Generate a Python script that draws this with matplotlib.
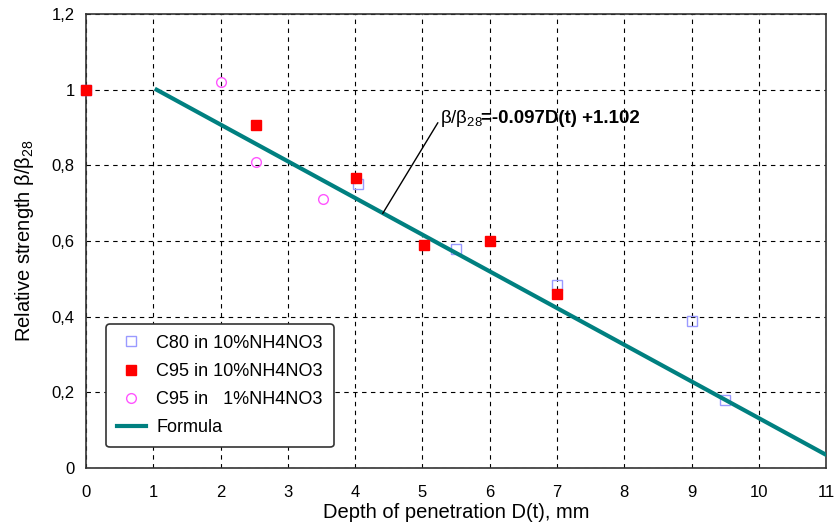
import matplotlib.pyplot as plt
import numpy as np

plt.rcParams['font.family'] = ['Liberation Sans', 'DejaVu Sans']
plt.rcParams['mathtext.fontset'] = 'custom'
plt.rcParams['mathtext.rm'] = 'Liberation Sans'
plt.rcParams['mathtext.it'] = 'Liberation Sans'

# data
c80_x = [0, 4.05, 5.5, 7.0, 9.0, 9.5]
c80_y = [1.0, 0.75, 0.58, 0.483, 0.39, 0.18]
c95_10_x = [0, 2.52, 4.02, 5.02, 6.0, 7.0]
c95_10_y = [1.0, 0.908, 0.768, 0.59, 0.60, 0.46]
c95_1_x = [0, 2.0, 2.52, 3.52]
c95_1_y = [1.0, 1.02, 0.81, 0.71]
slope, intercept = -0.097, 1.102
fit_x = [1.05, 11.0]

yticks = [0, 0.2, 0.4, 0.6, 0.8, 1.0, 1.2]
ylabels = ['0', '0,2', '0,4', '0,6', '0,8', '1', '1,2']

fig = plt.figure(figsize=(8.37, 5.23), dpi=100)
ax = fig.add_axes([0.1027, 0.105, 0.8843, 0.868])

ax.plot(c80_x, c80_y, 's', mfc='none', mec='#9a9aff', ms=7, mew=1,
        label='C80 in 10%NH4NO3', zorder=3, clip_on=False)
ax.plot(c95_10_x, c95_10_y, 's', color='#ff0000', ms=7,
        label='C95 in 10%NH4NO3', zorder=4, clip_on=False)
ax.plot(c95_1_x, c95_1_y, 'o', mfc='none', mec='#ff55ff', ms=7, mew=1,
        label='C95 in   1%NH4NO3', zorder=2, clip_on=False)
fx = np.array(fit_x)
ax.plot(fx, slope * fx + intercept, color='#008080', lw=3, label='Formula', zorder=3)

ax.set_xlim(0, 11)
ax.set_ylim(0, 1.2)
ax.set_xticks(range(0, 12))
ax.set_yticks(yticks)
ax.set_yticklabels(ylabels)
ax.tick_params(length=0, labelsize=12)
ax.tick_params(axis='x', pad=12)
ax.tick_params(axis='y', pad=8)
ax.grid(True, color='black', ls=(0, (4, 4)), lw=0.8)
for s in ax.spines.values():
    s.set_color('#333333')
    s.set_linewidth(1.2)

ax.set_xlabel('Depth of penetration D(t), mm', fontsize=14.5, labelpad=2)
ax.set_ylabel('Relative strength β/β$_{28}$', fontsize=14.5, labelpad=11)

ax.annotate('', xy=(4.41, 0.673), xytext=(5.23, 0.913),
            arrowprops=dict(arrowstyle='-', color='black', lw=1, shrinkA=0, shrinkB=0))
ax.annotate('β/β$_{28}$', xy=(5.26, 0.923), fontsize=13.5, ha='left', va='center')
ax.annotate('=-0.097D(t) +1.102', xy=(5.26, 0.923), xytext=(29.5, 0), textcoords='offset points',
            ha='left', va='center', fontsize=13.5, fontweight='bold')

leg = ax.legend(loc='lower left', bbox_to_anchor=(0.027, 0.046), borderaxespad=0, fontsize=13,
                frameon=True, fancybox=True, edgecolor='#333333', labelspacing=0.62,
                handlelength=1.6, handletextpad=0.6, borderpad=0.6)
leg.get_frame().set_linewidth(1.2)
leg.get_frame().set_alpha(1)

fig.savefig('out.png', dpi=100)
